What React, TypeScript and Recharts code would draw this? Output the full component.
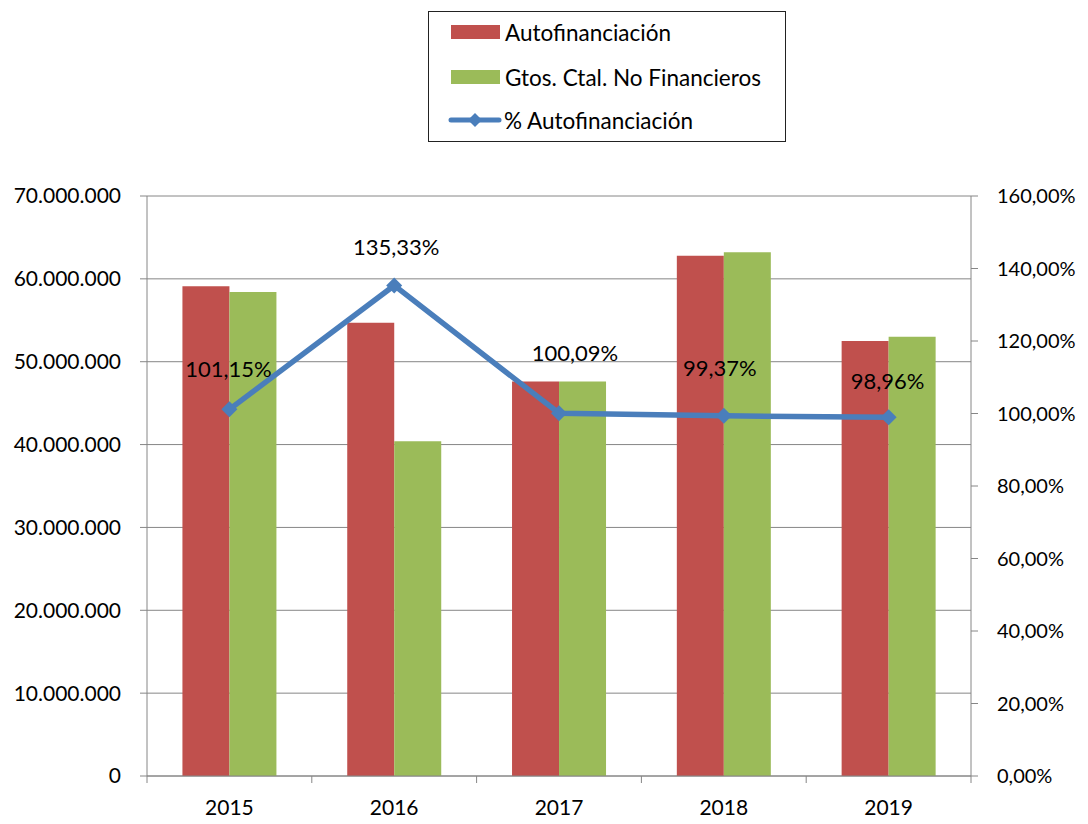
import { ComposedChart, Bar, Line, XAxis, YAxis, CartesianGrid, Legend, LabelList } from "recharts";

// ── Data ──────────────────────────────────────────────────────────────────
const years = ["2015", "2016", "2017", "2018", "2019"];
const autofinanciacion = [59100000, 54700000, 47600000, 62800000, 52500000];
const gastosCapital = [58400000, 40400000, 47600000, 63200000, 53000000];
const pctAutofinanciacion = [101.15, 135.33, 100.09, 99.37, 98.96];

const leftTicks = [0, 10000000, 20000000, 30000000, 40000000, 50000000, 60000000, 70000000];
const rightTicks = [0, 20, 40, 60, 80, 100, 120, 140, 160];

const data = years.map((year, i) => ({
  year,
  auto: autofinanciacion[i],
  gastos: gastosCapital[i],
  pct: pctAutofinanciacion[i],
}));

// ── Styling ───────────────────────────────────────────────────────────────
const RED = "#C0504D";
const GREEN = "#9BBB59";
const BLUE = "#4A7EBB";
const AXIS = "#868686";
const FONT = "Lato, 'Open Sans', sans-serif";

// data labels were nudged by hand in the original (dx, dy from the point)
const labelNudge = [
  [-1, -40],
  [2, -38],
  [16, -60],
  [-4, -47],
  [-1, -36],
];

const fmtMillions = (v: number) => String(v).replace(/\B(?=(\d{3})+(?!\d))/g, ".");
const fmtPct = (v: number) => v.toFixed(2).replace(".", ",") + "%";

function Diamond({ cx, cy, r = 8, fill = BLUE }: { cx?: number; cy?: number; r?: number; fill?: string }) {
  if (cx == null || cy == null) return null;
  return <polygon points={`${cx},${cy - r} ${cx + r},${cy} ${cx},${cy + r} ${cx - r},${cy}`} fill={fill} />;
}

function YearTick(props: any) {
  const { x, y, payload, index } = props;
  const half = payload?.offset ?? 82.4;
  return (
    <g>
      <line x1={x - half} x2={x - half} y1={y} y2={y + 7} stroke={AXIS} />
      {index === years.length - 1 && <line x1={x + half} x2={x + half} y1={y} y2={y + 7} stroke={AXIS} />}
      <text x={x} y={y + 39} textAnchor="middle" fontSize={21} fill="#000" fontFamily={FONT}>
        {payload.value}
      </text>
    </g>
  );
}

function PctLabel(props: any) {
  const { x, y, value, index } = props;
  const [dx, dy] = labelNudge[index] ?? [0, -40];
  return (
    <text x={x + dx} y={y + dy} dy="0.35em" textAnchor="middle" fontSize={22} fill="#000" fontFamily={FONT}>
      {fmtPct(value)}
    </text>
  );
}

function LegendBox() {
  const row = (top: number) => ({ position: "absolute" as const, top, left: 0, height: 24, display: "flex", alignItems: "center" });
  return (
    <div
      style={{
        boxSizing: "border-box",
        width: 358,
        height: 131,
        border: "1px solid #222",
        background: "#fff",
        position: "relative",
        fontFamily: FONT,
        fontSize: 22.5,
        color: "#000",
      }}
    >
      <div style={row(8)}>
        <span style={{ marginLeft: 22, width: 49, height: 14, background: RED }} />
        <span style={{ marginLeft: 5 }}>Autofinanciación</span>
      </div>
      <div style={row(53)}>
        <span style={{ marginLeft: 22, width: 49, height: 14, background: GREEN }} />
        <span style={{ marginLeft: 5 }}>Gtos. Ctal. No Financieros</span>
      </div>
      <div style={row(96)}>
        <svg width={54} height={24} style={{ marginLeft: 19 }}>
          <line x1={3} x2={51} y1={12} y2={12} stroke={BLUE} strokeWidth={5} strokeLinecap="round" />
          <Diamond cx={27} cy={12} r={7} />
        </svg>
        <span style={{ marginLeft: 2 }}>% Autofinanciación</span>
      </div>
    </div>
  );
}

export default function App() {
  return (
    <div style={{ position: "absolute", left: 0, top: 0, width: 1088, height: 824, background: "#fff" }}>
      <ComposedChart
        width={1088}
        height={824}
        data={data}
        margin={{ top: 196, right: 0, bottom: 0, left: 0 }}
        barCategoryGap="21.5%"
        barGap={0}
        style={{ fontFamily: FONT }}
      >
        <CartesianGrid yAxisId="left" vertical={false} stroke={AXIS} strokeWidth={1} />
        <XAxis
          dataKey="year"
          height={48}
          axisLine={{ stroke: AXIS }}
          tickLine={false}
          tickSize={0}
          tickMargin={0}
          tick={<YearTick />}
          interval={0}
        />
        <YAxis
          yAxisId="left"
          width={147}
          domain={[0, 70000000]}
          ticks={leftTicks}
          tickFormatter={fmtMillions}
          axisLine={{ stroke: AXIS }}
          tickLine={{ stroke: AXIS }}
          tickSize={7}
          tickMargin={19}
          tick={{ fill: "#000", fontSize: 21, fontFamily: FONT }}
          interval={0}
        />
        <YAxis
          yAxisId="right"
          orientation="right"
          width={117}
          domain={[0, 160]}
          ticks={rightTicks}
          tickFormatter={(v: number) => fmtPct(v)}
          axisLine={{ stroke: AXIS }}
          tickLine={{ stroke: AXIS }}
          tickSize={7}
          tickMargin={19}
          tick={{ fill: "#000", fontSize: 20, fontFamily: FONT, textAnchor: "start" }}
          interval={0}
        />
        <Legend
          layout="horizontal"
          verticalAlign="middle"
          align="center"
          content={() => <LegendBox />}
          wrapperStyle={{ top: 11, left: 428, width: 358, height: 131 }}
        />
        <Bar yAxisId="left" dataKey="auto" name="Autofinanciación" fill={RED} isAnimationActive={false} />
        <Bar yAxisId="left" dataKey="gastos" name="Gtos. Ctal. No Financieros" fill={GREEN} isAnimationActive={false} />
        <Line
          yAxisId="right"
          dataKey="pct"
          name="% Autofinanciación"
          type="linear"
          stroke={BLUE}
          strokeWidth={5.5}
          dot={(p: any) => <Diamond key={p.index} cx={p.cx} cy={p.cy} r={8} />}
          activeDot={false}
          isAnimationActive={false}
        >
          <LabelList dataKey="pct" content={<PctLabel />} />
        </Line>
      </ComposedChart>
    </div>
  );
}
